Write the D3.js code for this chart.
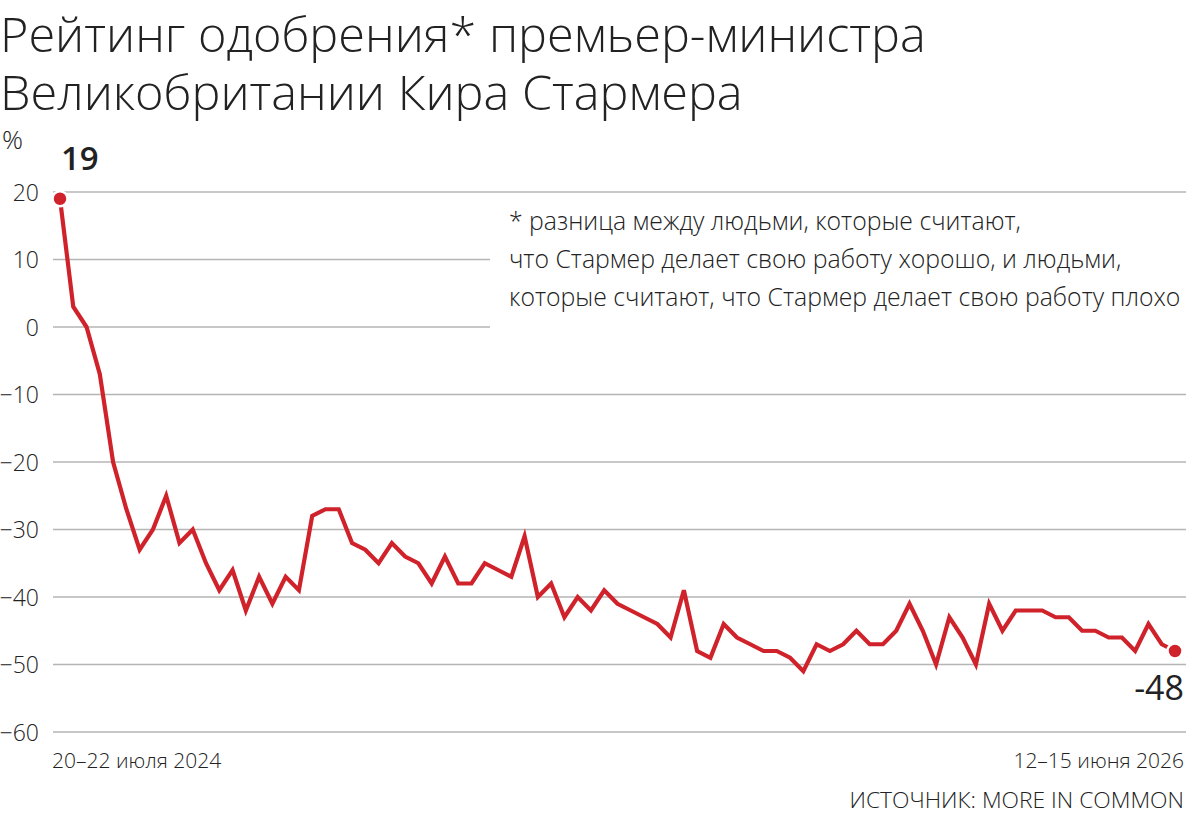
<!DOCTYPE html>
<html><head><meta charset="utf-8">
<script src="https://cdn.jsdelivr.net/npm/d3@7"></script>
<style>
html,body{margin:0;padding:0;background:#fff;}
svg{display:block;font-family:"Open Sans",sans-serif;}
</style></head>
<body><svg id="c" width="1186" height="816"></svg>
<script>
const titleLines = ["Рейтинг одобрения* премьер-министра", "Великобритании Кира Стармера"];
const unitLabel = "%";
const noteLines = ["* разница между людьми, которые считают,",
  "что Стармер делает свою работу хорошо, и людьми,",
  "которые считают, что Стармер делает свою работу плохо"];
const firstDate = "20–22 июля 2024";
const lastDate = "12–15 июня 2026";
const sourceText = "ИСТОЧНИК: MORE IN COMMON";
const yTicks = [20, 10, 0, -10, -20, -30, -40, -50, -60];
const netRating = [19, 3, 0, -7, -20, -27, -33, -30, -25, -32,
  -30, -35, -39, -36, -42, -37, -41, -37, -39, -28,
  -27, -27, -32, -33, -35, -32, -34, -35, -38, -34,
  -38, -38, -35, -36, -37, -31, -40, -38, -43, -40,
  -42, -39, -41, -42, -43, -44, -46, -39, -48, -49,
  -44, -46, -47, -48, -48, -49, -51, -47, -48, -47,
  -45, -47, -47, -45, -41, -45, -50, -43, -46, -50,
  -41, -45, -42, -42, -42, -43, -43, -45, -45, -46,
  -46, -48, -44, -47, -48];
const polls = netRating.map((v, i) => i + 1);

const svg = d3.select("#c");
const ink = "#222";
const red = "#d0222b";

const x = d3.scalePoint().domain(polls).range([60, 1175]);
const y = d3.scaleLinear().domain([-60, 20]).range([732, 192]);

// title
svg.append("text").attr("font-size", 48.6).attr("font-weight", 300).attr("fill", ink)
  .selectAll("tspan").data(titleLines).join("tspan")
  .attr("x", 0).attr("y", (d, i) => 52 + i * 58)
  .text(d => d);

svg.append("text").attr("x", 2).attr("y", 149).attr("font-size", 26)
  .attr("font-weight", 300).attr("fill", ink).text(unitLabel);

// grid
const yAxis = d3.axisLeft(y).tickValues(yTicks).tickSize(0).tickPadding(0);
const gAxis = svg.append("g").attr("transform", "translate(39,0)").call(yAxis);
gAxis.select(".domain").remove();
gAxis.selectAll("text").attr("font-size", 23).attr("font-family", "Open Sans")
  .attr("font-weight", 300).attr("fill", ink).attr("dy", "0.35em");

svg.append("g").selectAll("line").data(yTicks).join("line")
  .attr("x1", 53).attr("x2", 1186).attr("y1", d => y(d)).attr("y2", d => y(d))
  .attr("stroke", "#b5b5b5").attr("stroke-width", 1.6);

// note box
svg.append("rect").attr("x", 490).attr("y", 200).attr("width", 696).attr("height", 135).attr("fill", "#fff");
svg.append("g").selectAll("text").data(noteLines).join("text")
  .attr("x", 509).attr("y", (d, i) => 230 + i * 38)
  .attr("font-size", 24.8).attr("font-weight", 300).attr("fill", ink)
  .text(d => d);

// line
svg.append("path").datum(netRating)
  .attr("d", d3.line().x((d, i) => x(polls[i])).y(d => y(d)))
  .attr("fill", "none").attr("stroke", red).attr("stroke-width", 4.2)
  .attr("stroke-linejoin", "miter");

const ends = [0, netRating.length - 1];
svg.append("g").selectAll("circle").data(ends).join("circle")
  .attr("cx", i => x(polls[i])).attr("cy", i => y(netRating[i])).attr("r", 7.5)
  .attr("fill", red).attr("stroke", "#fff").attr("stroke-width", 2.5);

svg.append("text").attr("x", 61).attr("y", 170).attr("font-size", 33)
  .attr("font-weight", 600).attr("fill", ink).text(netRating[0]);
svg.append("text").attr("x", 1184).attr("y", 700).attr("text-anchor", "end")
  .attr("font-size", 34).attr("font-weight", 400).attr("fill", ink)
  .text(netRating[netRating.length - 1]);

// x labels
svg.append("text").attr("x", 52).attr("y", 768).attr("font-size", 21)
  .attr("font-weight", 300).attr("fill", ink).text(firstDate);
svg.append("text").attr("x", 1184).attr("y", 768).attr("text-anchor", "end").attr("font-size", 21)
  .attr("font-weight", 300).attr("fill", ink).text(lastDate);
svg.append("text").attr("x", 1184).attr("y", 808).attr("text-anchor", "end").attr("font-size", 22.8)
  .attr("font-weight", 300).attr("fill", ink).text(sourceText);
</script></body></html>
